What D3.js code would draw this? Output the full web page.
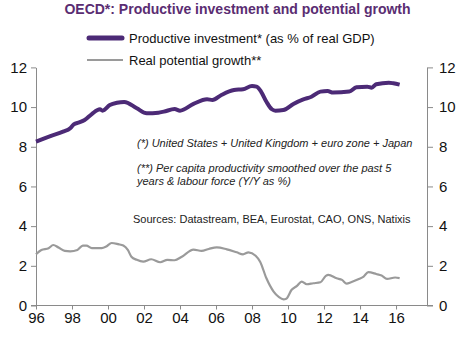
<!DOCTYPE html>
<html>
<head>
<meta charset="utf-8">
<script src="https://cdn.jsdelivr.net/npm/d3@7"></script>
<style>
  body { margin: 0; background: #fff; }
  svg text { font-family: Arial, "Liberation Sans", sans-serif; }
  .tick text { font-size: 15px; fill: #111; }
  .tick line, .domain { stroke: #8a8a8a; }
  .note { font-size: 11px; fill: #222; }
</style>
</head>
<body>
<svg width="475" height="337"></svg>
<script>
// productive investment, % of real GDP
const invYears = [1996, 1996.8, 1997.5, 1997.9, 1998.1, 1998.4, 1998.7, 1999.1, 1999.55, 1999.7,
  2000.1, 2000.5, 2000.9, 2001.6, 2002.15, 2002.8, 2003.1, 2003.7, 2004.0, 2004.75,
  2005.5, 2005.8, 2006.3, 2007.0, 2007.5, 2008.0, 2008.25, 2008.5, 2008.8, 2009.1,
  2009.3, 2009.74, 2010.3, 2010.85, 2011.3, 2011.8, 2012.2, 2012.5, 2013.4, 2013.8,
  2014.4, 2014.65, 2014.9, 2015.6, 2015.85, 2016.2]
const invValues = [8.26, 8.54, 8.76, 8.93, 9.13, 9.23, 9.35, 9.65, 9.89, 9.82,
  10.1, 10.22, 10.26, 9.94, 9.69, 9.72, 9.77, 9.9, 9.82, 10.16,
  10.39, 10.36, 10.61, 10.86, 10.9, 11.06, 11.03, 10.78, 10.27, 9.89,
  9.82, 9.85, 10.16, 10.39, 10.52, 10.78, 10.81, 10.73, 10.78, 11.0,
  11.03, 10.98, 11.15, 11.23, 11.2, 11.13]

// real potential growth, Y/Y %
const growthYears = [1996, 1996.3, 1996.7, 1996.96, 1997.25, 1997.6, 1997.9, 1998.3, 1998.6, 1998.8,
  1999.1, 1999.65, 1999.9, 2000.2, 2000.57, 2000.85, 2001.1, 2001.3, 2001.6, 2001.96,
  2002.4, 2002.9, 2003.3, 2003.7, 2004.1, 2004.75, 2005.2, 2005.6, 2006.04, 2006.6,
  2007.15, 2007.5, 2007.8, 2008.2, 2008.45, 2008.8, 2009.2, 2009.5, 2009.75, 2009.9,
  2010.2, 2010.5, 2010.76, 2011.04, 2011.4, 2011.8, 2012.1, 2012.24, 2012.7, 2013.0,
  2013.26, 2013.5, 2013.9, 2014.2, 2014.46, 2014.9, 2015.2, 2015.5, 2015.95, 2016.2]
const growthValues = [2.58, 2.8, 2.89, 3.05, 2.92, 2.75, 2.73, 2.8, 3.02, 3.02,
  2.89, 2.89, 2.97, 3.15, 3.09, 3.02, 2.8, 2.46, 2.3, 2.21,
  2.33, 2.18, 2.3, 2.28, 2.46, 2.82, 2.75, 2.85, 2.93, 2.83,
  2.68, 2.58, 2.68, 2.51, 2.21, 1.37, 0.7, 0.42, 0.31, 0.34,
  0.79, 0.99, 1.2, 1.07, 1.12, 1.17, 1.49, 1.54, 1.37, 1.29,
  1.1, 1.17, 1.32, 1.46, 1.68, 1.59, 1.51, 1.34, 1.41, 1.38]

const yTicks = [0, 2, 4, 6, 8, 10, 12]
const xTicks = [1996, 1998, 2000, 2002, 2004, 2006, 2008, 2010, 2012, 2014, 2016]

const title = 'OECD*: Productive investment and potential growth'
const legendLabels = ['Productive investment* (as % of real GDP)', 'Real potential growth**']
const notes = [
  '(*) United States + United Kingdom + euro zone + Japan',
  '(**) Per capita productivity smoothed over the past 5',
  'years & labour force (Y/Y as %)'
]
const sources = 'Sources: Datastream, BEA, Eurostat, CAO, ONS, Natixis'

const purple = '#4c2a76'
const grey = '#9a9a9a'

const svg = d3.select('svg')
const plotLeft = 36
const plotRight = 427
const plotTop = 67.4
const plotBottom = 305.5

const xScale = d3.scaleLinear().domain([1996, 2017.72]).range([plotLeft, plotRight])
const yScale = d3.scaleLinear().domain([0, 12]).range([plotBottom, plotTop])

// title
svg.append('text')
  .attr('x', 237.5)
  .attr('y', 14)
  .attr('text-anchor', 'middle')
  .attr('font-weight', 'bold')
  .attr('font-size', 14)
  .attr('fill', '#5a2d72')
  .text(title)

// legend
const legend = svg.append('g')
legend.append('line')
  .attr('x1', 89).attr('x2', 122).attr('y1', 38).attr('y2', 38)
  .attr('stroke', purple).attr('stroke-width', 5).attr('stroke-linecap', 'round')
legend.append('line')
  .attr('x1', 87).attr('x2', 123).attr('y1', 60).attr('y2', 60)
  .attr('stroke', grey).attr('stroke-width', 2)
legend.selectAll('text.leg')
  .data(legendLabels)
  .join('text')
  .attr('class', 'leg')
  .attr('x', 129)
  .attr('y', (d, i) => 42.5 + i * 22)
  .attr('font-size', 13)
  .attr('fill', '#111')
  .text(d => d)

// axes
const xAxis = d3.axisBottom(xScale)
  .tickValues(xTicks)
  .tickFormat(d => String(d).slice(2))
  .tickSize(4)
  .tickSizeOuter(0)
  .tickPadding(3)

const xAxisGroup = svg.append('g')
  .attr('transform', `translate(0, ${plotBottom})`)
  .call(xAxis)
xAxisGroup.select('.domain').attr('d', `M${plotLeft - 5},0H${plotRight + 6}`)

svg.append('g')
  .attr('transform', `translate(${plotLeft}, 0)`)
  .call(d3.axisLeft(yScale).tickValues(yTicks).tickSize(5).tickSizeOuter(0).tickPadding(4))

svg.append('g')
  .attr('transform', `translate(${plotRight}, 0)`)
  .call(d3.axisRight(yScale).tickValues(yTicks).tickSize(6).tickSizeOuter(0).tickPadding(6))

svg.selectAll('.tick text').attr('font-family', null).attr('font-size', null)

// notes
svg.append('text').attr('class', 'note')
  .attr('x', 137).attr('y', 147)
  .attr('font-style', 'italic')
  .text(notes[0])
svg.selectAll('text.note2')
  .data(notes.slice(1))
  .join('text')
  .attr('class', 'note note2')
  .attr('x', 137)
  .attr('y', (d, i) => 172 + i * 12.5)
  .attr('font-style', 'italic')
  .text(d => d)
svg.append('text').attr('class', 'note')
  .attr('x', 133).attr('y', 223)
  .text(sources)

// lines
const line = d3.line()
  .x(d => xScale(d[0]))
  .y(d => yScale(d[1]))
  .curve(d3.curveMonotoneX)

svg.append('path')
  .attr('d', line(d3.zip(growthYears, growthValues)))
  .attr('fill', 'none')
  .attr('stroke', grey)
  .attr('stroke-width', 2.2)

svg.append('path')
  .attr('d', line(d3.zip(invYears, invValues)))
  .attr('fill', 'none')
  .attr('stroke', purple)
  .attr('stroke-width', 4)
  .attr('stroke-linejoin', 'round')
</script>
</body>
</html>
